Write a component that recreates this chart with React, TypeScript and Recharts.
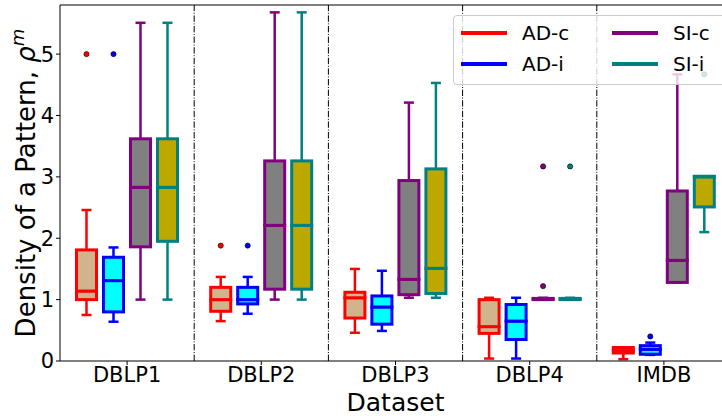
import React from "react";
import {
  Bar,
  ComposedChart,
  Legend,
  ReferenceLine,
  XAxis,
  YAxis,
} from "recharts";

const FONT = "'DejaVu Sans', sans-serif";

const DATASETS = ["DBLP1", "DBLP2", "DBLP3", "DBLP4", "IMDB"];
const Y_TICKS = [0, 1, 2, 3, 4, 5];

// [low whisker, q1, median, q3, high whisker] per dataset
const AD_C = [
  [0.75, 1.0, 1.14, 1.81, 2.46],
  [0.65, 0.81, 1.0, 1.2, 1.37],
  [0.46, 0.7, 1.03, 1.12, 1.5],
  [0.04, 0.45, 0.56, 1.0, 1.03],
  [0.03, 0.13, 0.17, 0.22, 0.22],
];
const AD_I = [
  [0.64, 0.8, 1.31, 1.69, 1.85],
  [0.77, 0.93, 1.0, 1.2, 1.37],
  [0.49, 0.6, 0.88, 1.06, 1.47],
  [0.04, 0.35, 0.65, 0.92, 1.03],
  [0.1, 0.11, 0.19, 0.25, 0.3],
];
const SI_C = [
  [1.0, 1.86, 2.83, 3.62, 5.51],
  [1.0, 1.17, 2.21, 3.26, 5.68],
  [1.03, 1.08, 1.33, 2.94, 4.21],
  [1.0, 1.0, 1.01, 1.02, 1.03],
  [1.28, 1.28, 1.64, 2.77, 4.67],
];
const SI_I = [
  [1.0, 1.95, 2.83, 3.62, 5.51],
  [1.0, 1.17, 2.21, 3.26, 5.68],
  [1.03, 1.1, 1.51, 3.13, 4.53],
  [1.0, 1.0, 1.01, 1.02, 1.03],
  [2.1, 2.51, 3.0, 3.01, 3.01],
];

// fliers above the upper whisker
const AD_C_OUT = [[5.0], [1.88], [], [], []];
const AD_I_OUT = [[5.0], [1.88], [], [], [0.4]];
const SI_C_OUT = [[], [], [], [1.22, 3.17], []];
const SI_I_OUT = [[], [], [], [3.17], [4.67]];

type Series = {
  key: string;
  name: string;
  stats: number[][];
  out: number[][];
  edge: string;
  fill: string;
};

const SERIES: Series[] = [
  { key: "adc", name: "AD-c", stats: AD_C, out: AD_C_OUT, edge: "#ff0000", fill: "#d2b48c" },
  { key: "adi", name: "AD-i", stats: AD_I, out: AD_I_OUT, edge: "#0000ff", fill: "#00ffff" },
  { key: "sic", name: "SI-c", stats: SI_C, out: SI_C_OUT, edge: "#800080", fill: "#808080" },
  { key: "sii", name: "SI-i", stats: SI_I, out: SI_I_OUT, edge: "#008080", fill: "#bda800" },
];

// each box is a stack: hidden base, lower whisker, two box halves, upper whisker, fliers
const rows = DATASETS.map((name, i) => {
  const row: Record<string, number | string> = { name };
  SERIES.forEach((s) => {
    const [lo, q1, med, q3, hi] = s.stats[i];
    row[`${s.key}_base`] = lo;
    row[`${s.key}_lw`] = q1 - lo;
    row[`${s.key}_lb`] = med - q1;
    row[`${s.key}_ub`] = q3 - med;
    row[`${s.key}_uw`] = hi - q3;
    let prev = hi;
    [0, 1].forEach((k) => {
      const o = s.out[i][k];
      row[`${s.key}_o${k}`] = o != null ? o - prev : 0;
      if (o != null) prev = o;
    });
  });
  return row;
});

const BOX_LW = 3;
const WHISKER_LW = 2.5;

const Empty = () => <g />;

const lowWhisker = (s: Series) => (p: any) => {
  const cx = p.x + p.width / 2;
  const half = (p.width - BOX_LW) / 4;
  const bottom = p.y + p.height;
  return (
    <g stroke={s.edge} strokeWidth={WHISKER_LW}>
      <line x1={cx} x2={cx} y1={p.y} y2={bottom} />
      <line x1={cx - half} x2={cx + half} y1={bottom} y2={bottom} />
    </g>
  );
};

const highWhisker = (s: Series) => (p: any) => {
  const cx = p.x + p.width / 2;
  const half = (p.width - BOX_LW) / 4;
  return (
    <g stroke={s.edge} strokeWidth={WHISKER_LW}>
      <line x1={cx} x2={cx} y1={p.y} y2={p.y + p.height} />
      <line x1={cx - half} x2={cx + half} y1={p.y} y2={p.y} />
    </g>
  );
};

const boxHalf = (s: Series) => (p: any) => (
  <rect
    x={p.x + BOX_LW / 2}
    y={p.y}
    width={p.width - BOX_LW}
    height={Math.max(p.height, 0)}
    fill={s.fill}
    stroke={s.edge}
    strokeWidth={BOX_LW}
  />
);

const flier = (s: Series, k: number) => (p: any) => {
  const i = DATASETS.indexOf(p.payload?.name);
  if (i < 0 || s.out[i][k] == null) return <g />;
  return (
    <circle
      cx={p.x + p.width / 2}
      cy={p.y}
      r={2.6}
      fill={s.edge}
      stroke="#000"
      strokeWidth={0.6}
    />
  );
};

function YTitle({ viewBox }: any) {
  const cx = viewBox.x + 35;
  const cy = viewBox.y + viewBox.height / 2;
  return (
    <text
      x={cx}
      y={cy}
      transform={`rotate(-90 ${cx} ${cy})`}
      textAnchor="middle"
      fontSize={26}
      fontFamily={FONT}
      fill="#000"
    >
      Density of a Pattern, <tspan fontStyle="italic">ρ</tspan>
      <tspan fontStyle="italic" fontSize={18} dy={-11}>
        m
      </tspan>
    </text>
  );
}

function XTitle({ viewBox }: any) {
  return (
    <text
      x={viewBox.x + viewBox.width / 2}
      y={viewBox.y + 49.5}
      textAnchor="middle"
      fontSize={25}
      fontFamily={FONT}
      fill="#000"
    >
      Dataset
    </text>
  );
}

function LegendBox() {
  return (
    <div
      style={{
        width: 264,
        height: 66,
        boxSizing: "content-box",
        border: "1px solid #cccccc",
        borderRadius: 4,
        background: "rgba(255,255,255,0.8)",
        display: "grid",
        gridTemplateColumns: "151px auto",
        gridAutoRows: "30.5px",
        paddingTop: 2,
        paddingLeft: 7,
        fontFamily: FONT,
        fontSize: 20,
        color: "#000",
      }}
    >
      {[SERIES[0], SERIES[2], SERIES[1], SERIES[3]].map((s) => (
        <div key={s.key} style={{ display: "flex", alignItems: "center" }}>
          <span
            style={{
              width: 46,
              height: 4,
              background: s.edge,
              marginRight: 15,
              display: "inline-block",
            }}
          />
          <span>{s.name}</span>
        </div>
      ))}
    </div>
  );
}

export default function App() {
  return (
    <div style={{ width: 722, height: 416, overflow: "hidden", position: "relative" }}>
      <style>{"body{margin:0;background:#fff}"}</style>
      <ComposedChart
        width={732}
        height={416}
        data={rows}
        margin={{ top: 5, right: 1, bottom: 0, left: 0 }}
        barGap={4}
      >
        <XAxis
          dataKey="name"
          height={55}
          stroke="#000"
          tickSize={4}
          tickMargin={2}
          tick={{ fontSize: 21, fill: "#000", fontFamily: FONT }}
          label={{ content: XTitle }}
        />
        <YAxis
          width={60}
          domain={[0, 5.8]}
          ticks={Y_TICKS}
          allowDataOverflow
          stroke="#000"
          tickSize={4}
          tick={{ fontSize: 21, fill: "#000", fontFamily: FONT }}
          label={{ content: YTitle }}
        />
        <ReferenceLine y={5.8} stroke="#000" strokeWidth={1} ifOverflow="visible" />
        {/* dash-dot separators on the left edge of every dataset band but the first */}
        {DATASETS.slice(1).map((d) => (
          <ReferenceLine
            key={d}
            x={d}
            position="start"
            stroke="#000"
            strokeWidth={1}
            strokeDasharray="6.4 1.6 1 1.6"
          />
        ))}
        {SERIES.flatMap((s) => [
          <Bar key={`${s.key}b`} dataKey={`${s.key}_base`} stackId={s.key} barSize={23} shape={Empty} isAnimationActive={false} />,
          <Bar key={`${s.key}lw`} dataKey={`${s.key}_lw`} stackId={s.key} barSize={23} shape={lowWhisker(s)} isAnimationActive={false} />,
          <Bar key={`${s.key}lb`} dataKey={`${s.key}_lb`} stackId={s.key} barSize={23} shape={boxHalf(s)} isAnimationActive={false} />,
          <Bar key={`${s.key}ub`} dataKey={`${s.key}_ub`} stackId={s.key} barSize={23} shape={boxHalf(s)} isAnimationActive={false} />,
          <Bar key={`${s.key}uw`} dataKey={`${s.key}_uw`} stackId={s.key} barSize={23} shape={highWhisker(s)} isAnimationActive={false} />,
          <Bar key={`${s.key}o0`} dataKey={`${s.key}_o0`} stackId={s.key} barSize={23} shape={flier(s, 0)} isAnimationActive={false} />,
          <Bar key={`${s.key}o1`} dataKey={`${s.key}_o1`} stackId={s.key} barSize={23} shape={flier(s, 1)} isAnimationActive={false} />,
        ])}
        <Legend
          layout="vertical"
          align="center"
          verticalAlign="middle"
          content={<LegendBox />}
          wrapperStyle={{ left: 453, top: 15, width: "auto", height: "auto" }}
        />
      </ComposedChart>
    </div>
  );
}
